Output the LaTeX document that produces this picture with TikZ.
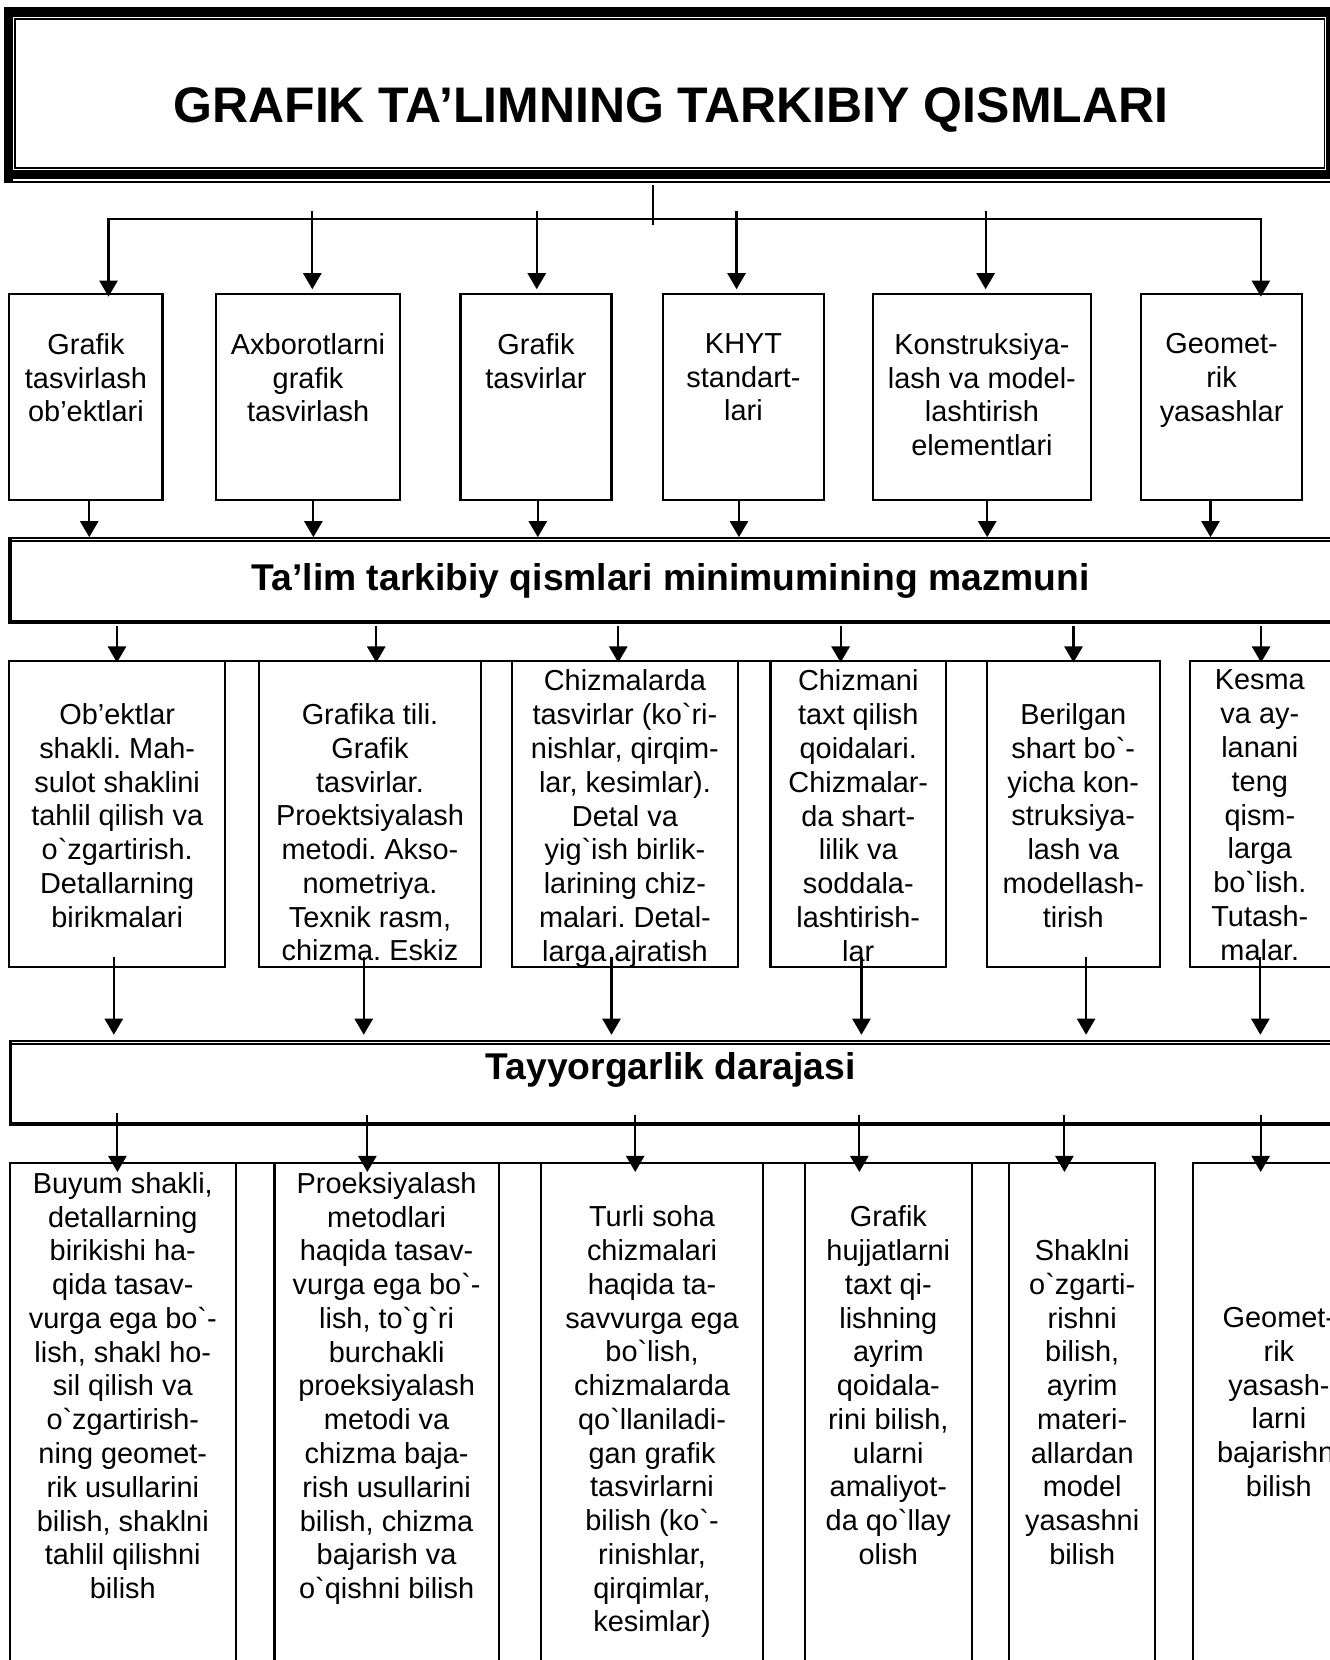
\documentclass[tikz,border=0pt]{standalone}
\usepackage{fontspec}
\setmainfont{Liberation Sans}[Ligatures=TeXOff]
\usetikzlibrary{arrows.meta,fit}
\frenchspacing
\tikzset{
  boxst/.style={draw, line width=1pt, inner sep=0pt},
  txt/.style={align=center, inner sep=0pt, anchor=north, font={\fontsize{13.65}{15.95}\selectfont}},
  arr/.style={line width=1pt, -{Triangle[width=8.6pt,length=7.6pt]}},
  ln/.style={line width=1pt},
  bartxt/.style={inner sep=0pt, anchor=base, font={\fontsize{17.6}{21}\selectfont\bfseries}},
}
\newcommand\varrow[4]{\coordinate (#1s) at (#2,#3); \coordinate (#1e) at (#2,#4); \draw[arr] (#1s) -- (#1e);}
\begin{document}
\begin{tikzpicture}[x=0.5pt,y=-0.5pt]
\useasboundingbox (0,0) rectangle (1256,1568);

% ---------- title frame ----------
\fill (4.2,6.9) rectangle (12.7,173);
\fill (4.2,6.9) rectangle (1256,15.8);
\fill (4.2,160.5) rectangle (1252.6,169);
\fill (1252.6,6.9) rectangle (1256,169);
\draw[line width=0.8pt] (14.3,18.2) rectangle (1251,159);
\draw[line width=0.8pt] (12.7,171.6) -- (1256,171.6);
\node[inner sep=0pt, anchor=base, font={\fontsize{23.6}{28}\selectfont\bfseries}] (title) at (633.7,116) {GRAFIK TA’LIMNING TARKIBIY QISMLARI};

% ---------- connectors from title ----------
\coordinate (t0) at (617,175);
\coordinate (t1) at (617,212.5);
\draw[line width=0.7pt] (t0) -- (t1);
\coordinate (tx) at (617,206.8);
\coordinate (busL) at (102.5,206.8);
\coordinate (busR) at (1191,206.8);
\coordinate (c1e) at (102.5,280.2);
\coordinate (c6e) at (1191,280.2);
\draw[arr] (tx) -- (busL) -- (c1e);
\draw[arr] (tx) -- (busR) -- (c6e);
\varrow{c2}{295}{199}{273.2}
\varrow{c3}{507}{199}{273.2}
\varrow{c4}{695.7}{199}{273.2}
\varrow{c5}{931}{199}{273.2}

% ---------- row 1 ----------
\node[boxst, fit={(8.8,277.6)(153.5,472.2)}] (b11) {};
\node[boxst, fit={(204,277.6)(378,472.2)}] (b12) {};
\node[boxst, fit={(435,277.6)(577.6,472.2)}] (b13) {};
\node[boxst, fit={(626,277.6)(778.5,472.2)}] (b14) {};
\node[boxst, fit={(824.7,277.6)(1030.3,472.2)}] (b15) {};
\node[boxst, fit={(1077.8,277.6)(1230,472.2)}] (b16) {};
\node[txt] (t11) at (81.2,314.5) {Grafik\\tasvirlash\\ob’ektlari};
\node[txt] (t12) at (291,314.5) {Axborotlarni\\grafik\\tasvirlash};
\node[txt] (t13) at (506.3,314.5) {Grafik\\tasvirlar};
\node[txt] (t14) at (702.3,314.5) {KHYT\\standart-\\lari};
\node[txt] (t15) at (927.5,314.5) {Konstruksiya-\\lash va model-\\lashtirish\\elementlari};
\node[txt] (t16) at (1153.9,314.5) {Geomet-\\rik\\yasashlar};

\varrow{d1}{84.3}{472.2}{507.4}
\varrow{d2}{296}{472.2}{507.4}
\varrow{d3}{508}{472.2}{507.4}
\varrow{d4}{698}{472.2}{507.4}
\varrow{d5}{932.5}{472.2}{507.4}
\varrow{d6}{1143.4}{472.2}{507.4}

% ---------- bar 2 ----------
\draw[line width=0.55pt] (7.6,508.2) -- (1262,508.2);
\draw[line width=1pt] (9.5,511.3) -- (1262,511.3);
\draw[line width=2pt] (7.6,587.2) -- (1262,587.2);
\draw[line width=1.85pt] (9.45,507.7) -- (9.45,589.2);
\node[bartxt] (bar2) at (633.5,557.5) {Ta’lim tarkibiy qismlari minimumining mazmuni};

\varrow{e1}{110.5}{591.2}{625.8}
\varrow{e2}{355.4}{591.2}{625.8}
\varrow{e3}{584}{591.2}{625.8}
\varrow{e4}{794}{591.2}{625.8}
\varrow{e5}{1014}{591.2}{625.8}
\varrow{e6}{1191.2}{591.2}{625.8}

% ---------- row 2 ----------
\draw[ln] (8.4,624.2) -- (1095.5,624.2);
\node[boxst, fit={(8.4,624.2)(212.9,913)}] (b21) {};
\node[boxst, fit={(244.5,624.2)(454.5,913)}] (b22) {};
\node[boxst, fit={(483.6,624.2)(697,913)}] (b23) {};
\node[boxst, fit={(727.8,624.2)(893.6,913)}] (b24) {};
\node[boxst, fit={(932,624.2)(1095.5,913)}] (b25) {};
\node[boxst, fit={(1124.4,624.2)(1262,913)}] (b26) {};
\node[txt] (t21) at (110.7,664.2) {Ob’ektlar\\shakli. Mah-\\sulot shaklini\\tahlil qilish va\\o`zgartirish.\\Detallarning\\birikmalari};
\node[txt] (t22) at (349.5,664.2) {Grafika tili.\\Grafik\\tasvirlar.\\Proektsiyalash\\metodi. Akso-\\nometriya.\\Texnik rasm,\\chizma. Eskiz};
\node[txt] (t23) at (590.3,632.5) {Chizmalarda\\tasvirlar (ko`ri-\\nishlar, qirqim-\\lar, kesimlar).\\Detal va\\yig`ish birlik-\\larining chiz-\\malari. Detal-\\larga ajratish};
\node[txt] (t24) at (810.7,632.5) {Chizmani\\taxt qilish\\qoidalari.\\Chizmalar-\\da shart-\\lilik va\\soddala-\\lashtirish-\\lar};
\node[txt] (t25) at (1013.8,664.2) {Berilgan\\shart bo`-\\yicha kon-\\struksiya-\\lash va\\modellash-\\tirish};
\node[txt] (t26) at (1190,632.5) {Kesma\\va ay-\\lanani\\teng\\qism-\\larga\\bo`lish.\\Tutash-\\malar.};

\varrow{f1}{107.5}{904}{977.4}
\varrow{f2}{343.6}{904}{977.4}
\varrow{f3}{577.6}{904}{977.4}
\varrow{f4}{813.7}{904}{977.4}
\varrow{f5}{1025.9}{904}{977.4}
\varrow{f6}{1190.5}{904}{977.4}

% ---------- bar 3 ----------
\draw[line width=0.55pt] (8.5,983.3) -- (1262,983.3);
\draw[line width=1pt] (10.1,986.5) -- (1262,986.5);
\draw[line width=1.9pt] (8.5,1062) -- (1262,1062);
\draw[line width=1.65pt] (10.1,982.8) -- (10.1,1063.9);
\node[bartxt] (bar3) at (633.5,1020) {Tayyorgarlik darajasi};

\varrow{g1}{110.9}{1051}{1107}
\varrow{g2}{347}{1053.6}{1107}
\varrow{g3}{600}{1053.6}{1107}
\varrow{g4}{811.7}{1053.6}{1107}
\varrow{g5}{1005.4}{1053.6}{1107}
\varrow{g6}{1190.8}{1053.6}{1107}

% ---------- row 3 ----------
\draw[ln] (9.3,1098.6) -- (1091,1098.6);
\node[boxst, fit={(9.3,1098.6)(222.6,1580)}] (b31) {};
\node[boxst, fit={(259.3,1098.6)(471,1580)}] (b32) {};
\node[boxst, fit={(511.4,1098.6)(720.3,1580)}] (b33) {};
\node[boxst, fit={(760.4,1098.6)(917.8,1580)}] (b34) {};
\node[boxst, fit={(953.4,1098.6)(1091,1580)}] (b35) {};
\node[boxst, fit={(1127,1098.6)(1290,1580)}] (b36) {};
\node[txt] (t31) at (116,1107) {Buyum shakli,\\detallarning\\birikishi ha-\\qida tasav-\\vurga ega bo`-\\lish, shakl ho-\\sil qilish va\\o`zgartirish-\\ning geomet-\\rik usullarini\\bilish, shaklni\\tahlil qilishni\\bilish};
\node[txt] (t32) at (365.2,1107) {Proeksiyalash\\metodlari\\haqida tasav-\\vurga ega bo`-\\lish, to`g`ri\\burchakli\\proeksiyalash\\metodi va\\chizma baja-\\rish usullarini\\bilish, chizma\\bajarish va\\o`qishni bilish};
\node[txt] (t33) at (615.9,1138.5) {Turli soha\\chizmalari\\haqida ta-\\savvurga ega\\bo`lish,\\chizmalarda\\qo`llaniladi-\\gan grafik\\tasvirlarni\\bilish (ko`-\\rinishlar,\\qirqimlar,\\kesimlar)};
\node[txt] (t34) at (839.1,1138.5) {Grafik\\hujjatlarni\\taxt qi-\\lishning\\ayrim\\qoidala-\\rini bilish,\\ularni\\amaliyot-\\da qo`llay\\olish};
\node[txt] (t35) at (1022.2,1170.5) {Shaklni\\o`zgarti-\\rishni\\bilish,\\ayrim\\materi-\\allardan\\model\\yasashni\\bilish};
\node[txt] (t36) at (1208,1234.5) {Geomet-\\rik\\yasash-\\larni\\bajarishni\\bilish};
\end{tikzpicture}
\end{document}
